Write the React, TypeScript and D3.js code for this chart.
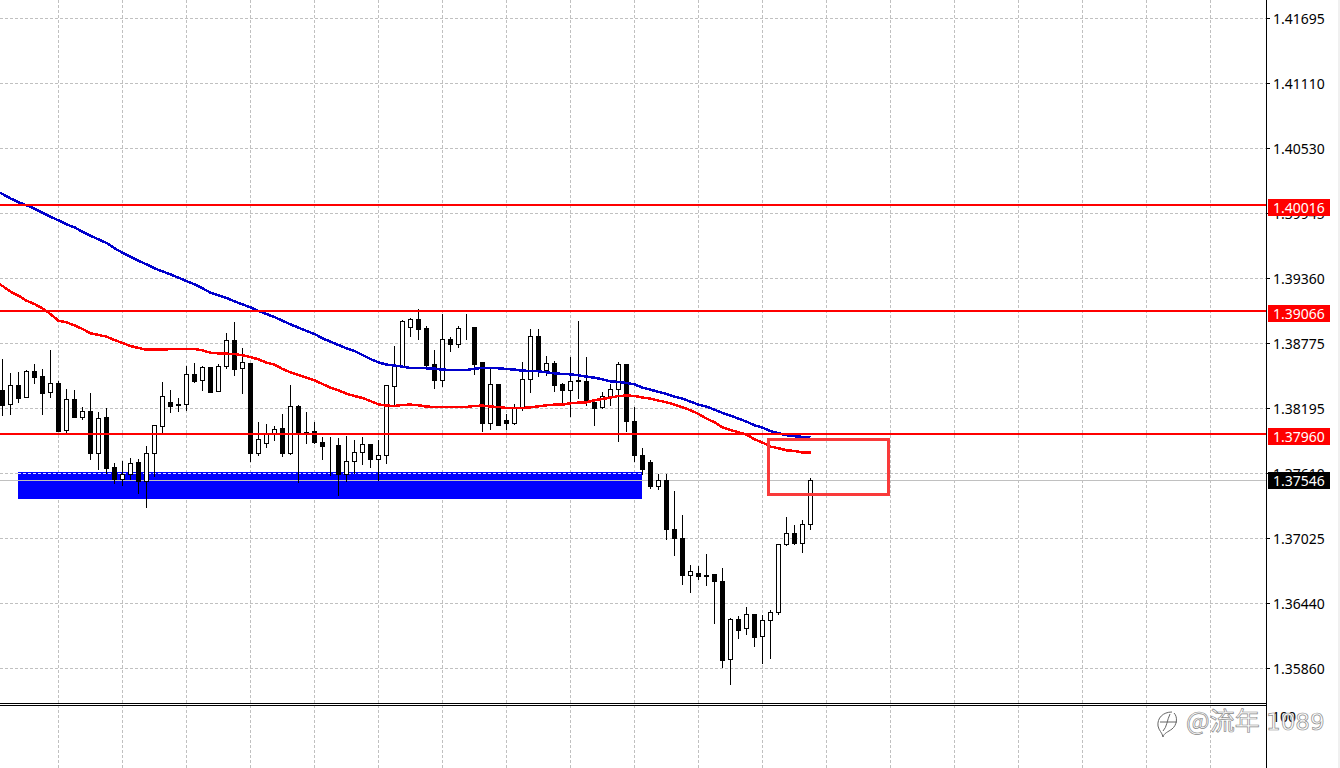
import React from 'react';
import * as d3 from 'd3';

const opens = [
  1.3836, 1.38228, 1.38404, 1.38291, 1.3853, 1.38485, 1.38336, 1.38422, 1.37995, 1.38279,
  1.38112, 1.38171, 1.37789, 1.38109, 1.37661, 1.37556, 1.37601, 1.37705, 1.37541, 1.37789,
  1.38031, 1.38252, 1.38231, 1.38228, 1.38503, 1.38443, 1.38563, 1.38345, 1.38569, 1.38805,
  1.38551, 1.38598, 1.37789, 1.37879, 1.37965, 1.38016, 1.37789, 1.38213, 1.37977, 1.37989,
  1.37891, 1.37855, 1.37858, 1.37601, 1.37717, 1.37798, 1.37873, 1.37735, 1.37771, 1.38389,
  1.38575, 1.38918, 1.38993, 1.38912, 1.38592, 1.38449, 1.38817, 1.38766, 1.38918, 1.38921,
  1.3861, 1.38058, 1.38413, 1.38082, 1.38058, 1.38204, 1.38452, 1.3884, 1.38533, 1.38598,
  1.3841, 1.38354, 1.38434, 1.38437, 1.38252, 1.38204, 1.383, 1.38362, 1.38592, 1.38079,
  1.37774, 1.37712, 1.37497, 1.3755, 1.37111, 1.37031, 1.36699, 1.36717, 1.36699, 1.36708,
  1.36645, 1.35937, 1.36296, 1.36215, 1.36341, 1.36143, 1.36287, 1.36359, 1.36977, 1.37075,
  1.36986, 1.37156,
];

const highs = [
  1.38643, 1.38521, 1.3853, 1.38545, 1.38598, 1.38554, 1.38724, 1.38449, 1.38374, 1.38365,
  1.3821, 1.38339, 1.38171, 1.38204, 1.37711, 1.37729, 1.37756, 1.37741, 1.37864, 1.38046,
  1.3844, 1.38368, 1.38294, 1.38578, 1.3861, 1.38581, 1.38563, 1.38598, 1.38876, 1.38975,
  1.38742, 1.38598, 1.38079, 1.38055, 1.38037, 1.3815, 1.3841, 1.38231, 1.38168, 1.38076,
  1.37947, 1.37947, 1.37938, 1.37956, 1.37917, 1.37947, 1.37882, 1.3792, 1.3841, 1.38763,
  1.38993, 1.39011, 1.39091, 1.38939, 1.38724, 1.39047, 1.38843, 1.38942, 1.39047, 1.38933,
  1.38616, 1.38554, 1.38413, 1.3815, 1.3824, 1.38619, 1.38915, 1.38912, 1.3867, 1.38625,
  1.38431, 1.38664, 1.38987, 1.38664, 1.38252, 1.38351, 1.38419, 1.38619, 1.38592, 1.3821,
  1.37846, 1.37739, 1.37613, 1.37613, 1.37455, 1.37246, 1.36798, 1.36789, 1.36896, 1.36717,
  1.36771, 1.36314, 1.36332, 1.36421, 1.3635, 1.36341, 1.36388, 1.3698, 1.37228, 1.37156,
  1.37195, 1.37577,
];

const lows = [
  1.38127, 1.38144, 1.38246, 1.38291, 1.38422, 1.38144, 1.38297, 1.37992, 1.37974, 1.38109,
  1.38091, 1.37732, 1.37643, 1.37613, 1.37517, 1.37505, 1.37559, 1.37428, 1.37305, 1.37583,
  1.37983, 1.38162, 1.38171, 1.38174, 1.38431, 1.3836, 1.38342, 1.38345, 1.38551, 1.38494,
  1.38333, 1.37714, 1.37768, 1.3784, 1.37911, 1.37759, 1.37777, 1.37526, 1.37882, 1.37876,
  1.37732, 1.37592, 1.37413, 1.37538, 1.37607, 1.37687, 1.37661, 1.37544, 1.37696, 1.38216,
  1.38569, 1.38837, 1.38817, 1.38569, 1.38377, 1.38389, 1.38709, 1.38739, 1.38817, 1.38497,
  1.37992, 1.38001, 1.38037, 1.38001, 1.38046, 1.3818, 1.38336, 1.38479, 1.38491, 1.38345,
  1.38234, 1.38118, 1.38288, 1.38225, 1.38037, 1.38198, 1.38222, 1.37902, 1.37992, 1.37714,
  1.37598, 1.37473, 1.37467, 1.37016, 1.36872, 1.36612, 1.36541, 1.36657, 1.36603, 1.36263,
  1.35866, 1.35716, 1.36132, 1.36167, 1.36057, 1.35902, 1.35949, 1.36347, 1.36962, 1.36974,
  1.36899, 1.37105,
];

const closes = [
  1.38225, 1.38401, 1.38288, 1.38527, 1.38476, 1.38333, 1.38419, 1.37992, 1.38276, 1.38109,
  1.38168, 1.37786, 1.38106, 1.37652, 1.37553, 1.37604, 1.37702, 1.37538, 1.37792, 1.38037,
  1.38303, 1.38216, 1.38219, 1.385, 1.3844, 1.38563, 1.38342, 1.38572, 1.38805, 1.38548,
  1.38607, 1.37786, 1.37917, 1.37962, 1.38007, 1.37786, 1.38213, 1.37965, 1.37968, 1.37885,
  1.37849, 1.37849, 1.37598, 1.3772, 1.37801, 1.37873, 1.37732, 1.37774, 1.38401, 1.38578,
  1.38975, 1.38993, 1.389, 1.38584, 1.38449, 1.38814, 1.38772, 1.38912, 1.38924, 1.38592,
  1.38055, 1.3841, 1.38037, 1.38055, 1.38204, 1.38455, 1.3884, 1.38524, 1.38598, 1.38398,
  1.38354, 1.38437, 1.38443, 1.38252, 1.38198, 1.383, 1.38365, 1.3859, 1.38076, 1.37771,
  1.37643, 1.37494, 1.37547, 1.37108, 1.37028, 1.36696, 1.36735, 1.36687, 1.3669, 1.36642,
  1.35934, 1.36296, 1.36203, 1.36341, 1.3614, 1.36287, 1.36359, 1.36977, 1.37075, 1.36983,
  1.37156, 1.37546,
];

// both averages start one bar before the first candle, the line is cut by the window edge
const slowMa = [
  1.40155,
  1.40119, 1.4008, 1.40045, 1.40018, 1.39988, 1.39952, 1.39916, 1.39883, 1.39847, 1.3982,
  1.39781, 1.39745, 1.39712, 1.3968, 1.39632, 1.39593, 1.39557, 1.39521, 1.39488, 1.39452,
  1.39425, 1.39398, 1.39368, 1.39338, 1.39309, 1.39273, 1.39234, 1.3921, 1.39186, 1.39156,
  1.39129, 1.39102, 1.39069, 1.39042, 1.39015, 1.38982, 1.38949, 1.3892, 1.3889, 1.38863,
  1.38824, 1.38794, 1.38764, 1.38734, 1.3871, 1.38674, 1.38638, 1.38608, 1.38588, 1.38579,
  1.3857, 1.38558, 1.38558, 1.38555, 1.38552, 1.38543, 1.3854, 1.3854, 1.3854, 1.38552,
  1.38558, 1.38558, 1.38555, 1.38549, 1.38543, 1.38534, 1.38531, 1.38528, 1.38519, 1.3851,
  1.38504, 1.38501, 1.38492, 1.3848, 1.38471, 1.38456, 1.38438, 1.38432, 1.38423, 1.38411,
  1.38381, 1.38363, 1.38343, 1.38325, 1.38301, 1.38283, 1.38256, 1.38229, 1.38211, 1.38184,
  1.38154, 1.3813, 1.38103, 1.38076, 1.38043, 1.38022, 1.37992, 1.37972, 1.37954, 1.37945,
  1.37939, 1.37933,
];

const fastMa = [
  1.39333,
  1.39294, 1.39243, 1.39207, 1.39162, 1.39132, 1.39093, 1.39042, 1.38982, 1.38967, 1.3894,
  1.38908, 1.38869, 1.38854, 1.38839, 1.38809, 1.38782, 1.38755, 1.38737, 1.38722, 1.38722,
  1.38722, 1.38728, 1.38728, 1.38728, 1.38728, 1.38716, 1.38695, 1.38689, 1.38686, 1.38683,
  1.38671, 1.38656, 1.38635, 1.38606, 1.38588, 1.38549, 1.38519, 1.38495, 1.38471, 1.38447,
  1.38414, 1.38381, 1.38357, 1.38327, 1.38306, 1.38288, 1.38261, 1.38231, 1.3822, 1.38217,
  1.38226, 1.38229, 1.38223, 1.38211, 1.38208, 1.38208, 1.38208, 1.38208, 1.38208, 1.38217,
  1.3822, 1.38211, 1.38208, 1.38199, 1.38199, 1.38199, 1.38205, 1.38214, 1.38223, 1.38229,
  1.38229, 1.38241, 1.38247, 1.3825, 1.38268, 1.3828, 1.38292, 1.38306, 1.3831, 1.38307,
  1.38292, 1.38283, 1.38265, 1.3825, 1.38229, 1.38205, 1.38178, 1.38145, 1.38103, 1.3807,
  1.38025, 1.38001, 1.3798, 1.3796, 1.37918, 1.37888, 1.37852, 1.37837, 1.37819, 1.37813,
  1.37798, 1.37798,
];

const priceTicks = ['1.41695', '1.41110', '1.40530', '1.39945', '1.39360', '1.38775', '1.38195', '1.37610', '1.37025', '1.36440', '1.35860'];
const levels = ['1.40016', '1.39066', '1.37960'];
const lastPrice = '1.37546';
const gridBars = d3.range(7, 152, 8);
const zonePrices = [1.37624, 1.37382];
const zoneBars = [1.94, 79.94];
const boxPrices = [1.37916, 1.37422];
const boxBars = [95.75, 110.75];

const W = 1340;
const H = 768;
const axisX = 1266.5;
const font = '"Noto Sans", sans-serif';

const x = d3.scaleLinear().domain([0, 101]).range([2.5, 810.5]);
const y = d3.scaleLinear().domain([1.3586, 1.41695]).range([668.5, 18.5]);
const px = (p: number) => Math.floor(y(p)) + 0.5;

const App: React.FC = () => {
  const line = d3.line<number>().x((_, i) => x(i - 1)).y(d => y(d));

  return (
    <svg width={W} height={H} style={{ position: 'absolute', left: 0, top: 0, background: '#fff' }}>
      <rect x={W - 2} y={0} width={2} height={H} fill="#f0f0f0" />

      {/* grid */}
      <g stroke="#c0c0c0" strokeDasharray="3,2" shapeRendering="crispEdges">
        {priceTicks.map(t => (
          <line key={t} x1={0} x2={axisX} y1={px(+t)} y2={px(+t)} />
        ))}
        {gridBars.map(b => (
          <line key={b} x1={x(b)} x2={x(b)} y1={0} y2={H} />
        ))}
      </g>

      {/* support zone */}
      <rect
        x={Math.round(x(zoneBars[0]))}
        y={Math.round(y(zonePrices[0]))}
        width={Math.round(x(zoneBars[1])) - Math.round(x(zoneBars[0]))}
        height={Math.round(y(zonePrices[1])) - Math.round(y(zonePrices[0]))}
        fill="#0000ff"
        shapeRendering="crispEdges"
      />
      <line
        x1={x(zoneBars[0])} x2={x(zoneBars[1])} y1={px(+priceTicks[7])} y2={px(+priceTicks[7])}
        stroke="#e0e0ff" strokeDasharray="3,2" shapeRendering="crispEdges"
      />
      <line x1={0} x2={axisX} y1={px(+lastPrice)} y2={px(+lastPrice)} stroke="#c0c0c0" shapeRendering="crispEdges" />

      {/* candles */}
      <g shapeRendering="crispEdges">
        {opens.map((o, i) => {
          const c = closes[i];
          const top = px(Math.max(o, c));
          const bottom = px(Math.min(o, c));
          return (
            <g key={i}>
              <line x1={x(i)} x2={x(i)} y1={px(highs[i])} y2={px(lows[i])} stroke="#000" />
              <rect
                x={x(i) - 2}
                y={top}
                width={4}
                height={bottom - top}
                fill={c < o ? '#000' : '#fff'}
                stroke="#000"
              />
            </g>
          );
        })}
      </g>

      {/* moving averages */}
      <path d={line(slowMa) ?? ''} fill="none" stroke="#0000cc" strokeWidth={2.5} shapeRendering="crispEdges" />
      <path d={line(fastMa) ?? ''} fill="none" stroke="#ff0000" strokeWidth={2.5} shapeRendering="crispEdges" />

      {/* horizontal levels */}
      {levels.map(l => (
        <line
          key={l} x1={0} x2={axisX} y1={Math.floor(y(+l))} y2={Math.floor(y(+l))}
          stroke="#ff0000" strokeWidth={2} shapeRendering="crispEdges"
        />
      ))}

      {/* highlighted box */}
      <rect
        x={x(boxBars[0])}
        y={y(boxPrices[0])}
        width={x(boxBars[1]) - x(boxBars[0])}
        height={y(boxPrices[1]) - y(boxPrices[0])}
        fill="none"
        stroke="#f93a3a"
        strokeWidth={3}
        shapeRendering="crispEdges"
      />

      {/* indicator window separator */}
      <g stroke="#000" shapeRendering="crispEdges">
        <line x1={0} x2={axisX} y1={703.5} y2={703.5} />
        <line x1={0} x2={axisX} y1={705.5} y2={705.5} />
      </g>

      {/* price axis */}
      <line x1={axisX} x2={axisX} y1={0} y2={H} stroke="#000" shapeRendering="crispEdges" />
      <g fontFamily={font} fontSize={14} fill="#000">
        {priceTicks.map(t => (
          <g key={t}>
            <line x1={1267} x2={1270} y1={px(+t)} y2={px(+t)} stroke="#000" shapeRendering="crispEdges" />
            <text x={1273} y={px(+t) + 5.5}>{t}</text>
          </g>
        ))}
        <text x={1272} y={722}>100</text>
      </g>

      {/* price labels */}
      <g fontFamily={font} fontSize={14}>
        {levels.map(l => {
          const top = Math.floor(y(+l)) - 6;
          return (
            <g key={l}>
              <rect x={1268} y={top} width={62} height={17} fill="#ff0000" />
              <text x={1273} y={top + 14} fill="#fff">{l}</text>
            </g>
          );
        })}
        <rect x={1268} y={Math.floor(y(+lastPrice)) - 8} width={62} height={17} fill="#000" />
        <text x={1273} y={Math.floor(y(+lastPrice)) + 6} fill="#fff">{lastPrice}</text>
      </g>

      {/* watermark */}
      <g fill="#fff" stroke="#8a8a8a" strokeWidth={0.7}>
        <path
          d="M1172 712 C1163 712 1157 718 1158 726 C1159 731 1162 732 1163 737 C1164 733 1168 732 1172 729 C1177 725 1178 717 1174 713 M1160 722 L1177 722 M1170 714 C1167 720 1167 727 1163 731"
          fill="none" stroke="#666" strokeWidth={1}
        />
        <text x={1186} y={730} fontFamily='"Noto Sans CJK SC", sans-serif' fontSize={25}>@流年</text>
        <text x={1266} y={730} fontFamily='"DejaVu Sans", sans-serif' fontSize={23}>1089</text>
      </g>
    </svg>
  );
};

export default App;
